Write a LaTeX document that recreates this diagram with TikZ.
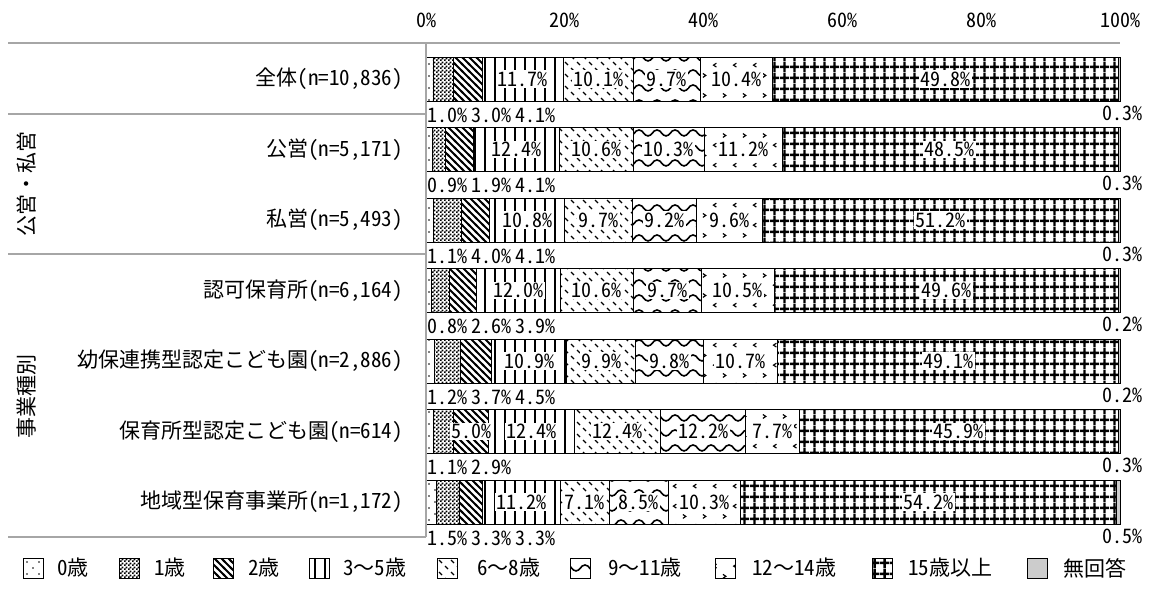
\documentclass[tikz,border=0pt]{standalone}
\usepackage{fontspec}
\setmainfont{Noto Sans CJK JP}[RawFeature=+hwid]
\newfontfamily\fw{Noto Sans CJK JP}
\usetikzlibrary{patterns}

% ---------- patterns ----------
\pgfdeclarepatternformonly{pzero}{\pgfqpoint{-1pt}{-1pt}}{\pgfqpoint{13pt}{13pt}}{\pgfqpoint{12pt}{12pt}}{%
  \pgfpathcircle{\pgfqpoint{3pt}{3pt}}{0.9pt}%
  \pgfpathcircle{\pgfqpoint{9pt}{9pt}}{0.9pt}%
  \pgfusepath{fill}}
\pgfdeclarepatternformonly{pone}{\pgfqpoint{0pt}{0pt}}{\pgfqpoint{4pt}{4pt}}{\pgfqpoint{4pt}{4pt}}{%
  \pgfpathrectangle{\pgfqpoint{0pt}{0pt}}{\pgfqpoint{2pt}{2pt}}%
  \pgfpathrectangle{\pgfqpoint{2pt}{2pt}}{\pgfqpoint{2pt}{2pt}}%
  \pgfusepath{fill}}
\pgfdeclarepatternformonly{ptwo}{\pgfqpoint{-2pt}{-2pt}}{\pgfqpoint{9pt}{9pt}}{\pgfqpoint{7pt}{7pt}}{%
  \pgfsetlinewidth{1.8pt}%
  \pgfpathmoveto{\pgfqpoint{-1pt}{8pt}}\pgfpathlineto{\pgfqpoint{8pt}{-1pt}}%
  \pgfusepath{stroke}}
\pgfdeclarepatternformonly{pthree}{\pgfqpoint{0pt}{-1pt}}{\pgfqpoint{10pt}{11pt}}{\pgfqpoint{10pt}{10pt}}{%
  \pgfsetlinewidth{2.2pt}%
  \pgfpathmoveto{\pgfqpoint{5pt}{-1pt}}\pgfpathlineto{\pgfqpoint{5pt}{11pt}}%
  \pgfusepath{stroke}}
\pgfdeclarepatternformonly{psix}{\pgfqpoint{-1pt}{-1pt}}{\pgfqpoint{13pt}{13pt}}{\pgfqpoint{12pt}{12pt}}{%
  \pgfsetlinewidth{1.3pt}%
  \pgfpathmoveto{\pgfqpoint{1pt}{11pt}}\pgfpathlineto{\pgfqpoint{4pt}{8pt}}%
  \pgfpathmoveto{\pgfqpoint{7pt}{5pt}}\pgfpathlineto{\pgfqpoint{10pt}{2pt}}%
  \pgfusepath{stroke}}
\pgfdeclarepatternformonly{pnine}{\pgfqpoint{-1pt}{-1pt}}{\pgfqpoint{19pt}{16pt}}{\pgfqpoint{18pt}{15pt}}{%
  \pgfsetlinewidth{1.6pt}%
  \pgfpathmoveto{\pgfqpoint{-0.5pt}{3pt}}%
  \pgfpathcurveto{\pgfqpoint{4.5pt}{3pt}}{\pgfqpoint{4.5pt}{9pt}}{\pgfqpoint{9pt}{9pt}}%
  \pgfpathcurveto{\pgfqpoint{13.5pt}{9pt}}{\pgfqpoint{13.5pt}{3pt}}{\pgfqpoint{18.5pt}{3pt}}%
  \pgfusepath{stroke}}
\pgfdeclarepatternformonly{ptwelve}{\pgfqpoint{0pt}{0pt}}{\pgfqpoint{20pt}{20pt}}{\pgfqpoint{20pt}{20pt}}{%
  \pgfsetlinewidth{1.2pt}%
  \pgfpathmoveto{\pgfqpoint{3pt}{16pt}}\pgfpathlineto{\pgfqpoint{6pt}{14pt}}\pgfpathlineto{\pgfqpoint{3pt}{12pt}}%
  \pgfpathmoveto{\pgfqpoint{17pt}{6pt}}\pgfpathlineto{\pgfqpoint{14pt}{4pt}}\pgfpathlineto{\pgfqpoint{17pt}{2pt}}%
  \pgfusepath{stroke}}
\pgfdeclarepatternformonly{pfifteen}{\pgfqpoint{0pt}{0pt}}{\pgfqpoint{10pt}{11pt}}{\pgfqpoint{10pt}{11pt}}{%
  \pgfsetlinewidth{2.6pt}%
  \pgfpathmoveto{\pgfqpoint{5pt}{0pt}}\pgfpathlineto{\pgfqpoint{5pt}{11pt}}%
  \pgfpathmoveto{\pgfqpoint{0pt}{5.5pt}}\pgfpathlineto{\pgfqpoint{10pt}{5.5pt}}%
  \pgfusepath{stroke}}

\tikzset{
  lbl/.style={font=\fontsize{20}{22}\selectfont, inner sep=0pt, text=black},
  tlbl/.style={font=\fontsize{21}{23}\selectfont, inner sep=0pt, text=black},
  inlbl/.style={lbl, fill=white, inner sep=1.5pt},
  segbase/.style={draw=black, line width=0.8pt},
  seg1/.style={segbase, preaction={fill=white}, pattern=pzero},
  seg2/.style={segbase, preaction={fill=white}, pattern=pone},
  seg3/.style={segbase, preaction={fill=white}, pattern=ptwo},
  seg4/.style={segbase, preaction={fill=white}, pattern=pthree},
  seg5/.style={segbase, preaction={fill=white}, pattern=psix},
  seg6/.style={segbase, preaction={fill=white}, pattern=pnine},
  seg7/.style={segbase, preaction={fill=white}, pattern=ptwelve},
  seg8/.style={segbase, preaction={fill=white}, pattern=pfifteen},
  seg9/.style={segbase, fill=gray!40},
  gline/.style={draw=gray!70, line width=1.5pt},
  grp/.style={tlbl, rotate=90},
}

% #1 row y, #2 values, #3 first index labelled inside, #4 row name
\newcommand\drawrow[4]{%
  \xdef\tot{0}%
  \foreach \v in {#2}{\pgfmathparse{\tot+\v}\xdef\tot{\pgfmathresult}}%
  \pgfmathsetmacro\fac{694/\tot}%
  \xdef\fac{\fac}%
  \xdef\cum{0}%
  \foreach \v [count=\i] in {#2}{%
    \pgfmathsetmacro\xa{426+\fac*\cum}%
    \pgfmathsetmacro\xb{426+\fac*(\cum+\v)}%
    \path[seg\i] (\xa,#1-22) rectangle (\xb,#1+22);
    \pgfmathparse{\cum+\v}\xdef\cum{\pgfmathresult}%
  }%
  \xdef\cum{0}%
  \foreach \v [count=\i] in {#2}{%
    \pgfmathsetmacro\xa{426+\fac*\cum}%
    \pgfmathsetmacro\xb{426+\fac*(\cum+\v)}%
    \ifnum\i<#3\relax
      \node[lbl,anchor=west] (#4s\i) at (427+44*\i-44,#1+36) {\v\%};
    \else\ifnum\i<9\relax
      \node[inlbl] (#4s\i) at ({(\xa+\xb)/2},#1) {\v\%};
    \else
      \node[lbl,anchor=east] (#4s\i) at (1143,#1+34) {\v\%};
    \fi\fi
    \pgfmathparse{\cum+\v}\xdef\cum{\pgfmathresult}%
  }%
}

\begin{document}
\begin{tikzpicture}[x=1pt,y=-1pt]
\path[use as bounding box] (0,0) rectangle (1150,589);

% axis labels
\foreach \p [count=\k from 0] in {0,20,40,60,80,100}
  \node[lbl] (ax\k) at (426+138.8*\k,20) {\p\%};

% bars
\drawrow{79}{1.0,3.0,4.1,11.7,10.1,9.7,10.4,49.8,0.3}{4}{ra}
\drawrow{149.5}{0.9,1.9,4.1,12.4,10.6,10.3,11.2,48.5,0.3}{4}{rb}
\drawrow{220}{1.1,4.0,4.1,10.8,9.7,9.2,9.6,51.2,0.3}{4}{rc}
\drawrow{290.5}{0.8,2.6,3.9,12.0,10.6,9.7,10.5,49.6,0.2}{4}{rd}
\drawrow{361}{1.2,3.7,4.5,10.9,9.9,9.8,10.7,49.1,0.2}{4}{re}
\drawrow{431.5}{1.1,2.9,5.0,12.4,12.4,12.2,7.7,45.9,0.3}{3}{rf}
\drawrow{502}{1.5,3.3,3.3,11.2,7.1,8.5,10.3,54.2,0.5}{4}{rg}

% frame lines
\draw[gline] (8,43) -- (1120,43);
\draw[gline] (8,114) -- (426,114);
\draw[gline] (8,254) -- (426,254);
\draw[gline] (8,537) -- (426,537);
\draw[gline] (426,43) -- (426,537);

% row labels
\node[tlbl,anchor=east] (la) at (403,79) {全体(n=10,836)};
\node[tlbl,anchor=east] (lb) at (403,150) {公営(n=5,171)};
\node[tlbl,anchor=east] (lc) at (403,220) {私営(n=5,493)};
\node[tlbl,anchor=east] (ld) at (403,291) {認可保育所(n=6,164)};
\node[tlbl,anchor=east] (le) at (403,361) {幼保連携型認定こども園(n=2,886)};
\node[tlbl,anchor=east] (lf) at (403,432) {保育所型認定こども園(n=614)};
\node[tlbl,anchor=east] (lg) at (403,502) {地域型保育事業所(n=1,172)};

% group labels
\node[grp] (g1) at (27,184) {公営・私営};
\node[grp] (g2) at (27,396) {事業種別};

% legend
\foreach \bx/\tx/\t [count=\i] in {23/57/0歳,119/154/1歳,213/248/2歳,309/343/3{\fw ～}5歳,437/477/6{\fw ～}8歳,570/608/9{\fw ～}11歳,715/752/12{\fw ～}14歳,872/908/15歳以上,1027/1063/無回答}{
  \path[seg\i] (\bx,558) rectangle ++(20,20);
  \node[tlbl,anchor=west] (leg\i) at (\tx,568) {\t};
}
\end{tikzpicture}
\end{document}
